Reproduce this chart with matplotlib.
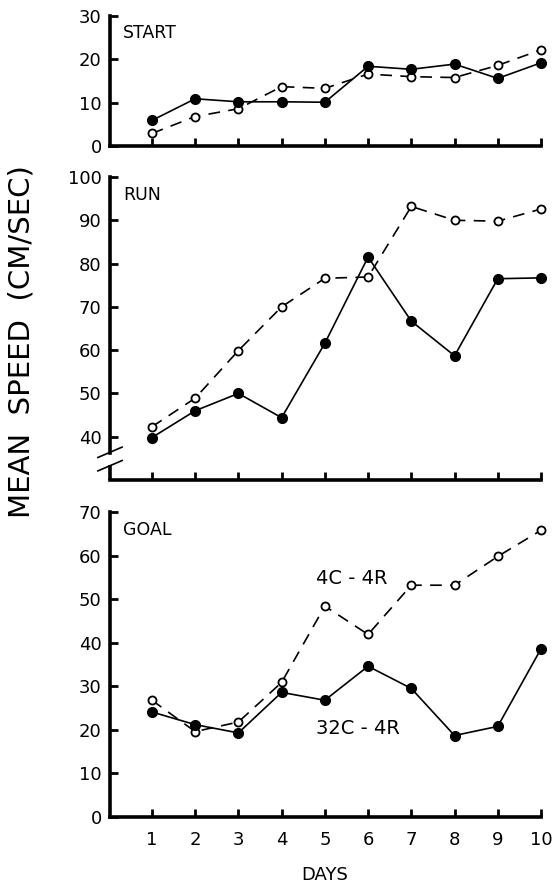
import numpy as np
import matplotlib.pyplot as plt

plt.rcParams['font.family'] = ['DejaVu Sans']

days = [1, 2, 3, 4, 5, 6, 7, 8, 9, 10]

# START segment
start_32c = [5.9, 10.9, 10.2, 10.2, 10.1, 18.4, 17.7, 18.9, 15.6, 19.2]
start_4c = [2.9, 6.8, 8.6, 13.7, 13.3, 16.6, 16.0, 15.8, 18.6, 22.2]

# RUN segment
run_32c = [39.8, 46.0, 50.0, 44.4, 61.6, 81.5, 66.7, 58.7, 76.5, 76.7]
run_4c = [42.3, 48.9, 59.9, 70.0, 76.6, 76.9, 93.2, 90.0, 89.8, 92.6]

# GOAL segment
goal_32c = [24.1, 21.2, 19.3, 28.6, 26.8, 34.6, 29.5, 18.7, 20.8, 38.6]
goal_4c = [26.8, 19.6, 21.8, 30.9, 48.4, 41.9, 53.2, 53.2, 59.8, 65.8]

W, H = 555, 884
fig = plt.figure(figsize=(W / 100, H / 100), dpi=100)

def box(top_px, bot_px):
    return [110 / W, (H - bot_px) / H, 431 / W, (bot_px - top_px) / H]

panels = [
    (box(16, 146), (0, 30), [0, 10, 20, 30], "START", 0.87, start_32c, start_4c),
    (box(177, 480), (30, 100), [40, 50, 60, 70, 80, 90, 100], "RUN", 0.94, run_32c, run_4c),
    (box(512, 817), (0, 70), [0, 10, 20, 30, 40, 50, 60, 70], "GOAL", 0.94, goal_32c, goal_4c),
]

axes = []
for rect, ylim, yt, name, ty, s32, s4 in panels:
    ax = fig.add_axes(rect)
    ax.set_xlim(0.03, 10)
    ax.set_ylim(*ylim)
    for s in ["top", "right"]:
        ax.spines[s].set_visible(False)
    for s in ["left", "bottom"]:
        ax.spines[s].set_linewidth(2.6)
    ax.set_yticks(yt)
    ax.set_xticks(days)
    ax.tick_params(direction="in", length=6, width=2, labelsize=13, pad=6)
    ax.tick_params(axis="x", pad=10)
    ax.plot(days, s4, color="black", lw=1.2, ls=(0, (7, 5)), marker="o", ms=5.8,
            mfc="white", mec="black", mew=1.3, clip_on=False, zorder=3)
    ax.plot(days, s32, color="black", lw=1.2, ls="-", marker="o", ms=7,
            mfc="black", mec="black", clip_on=False, zorder=4)
    ax.text(0.03, ty, name, transform=ax.transAxes, fontsize=12.5,
            va="center", ha="left")
    axes.append(ax)

ax_s, ax_r, ax_g = axes
ax_s.set_xticklabels([])
ax_r.set_xticklabels([])

# axis break on RUN panel
ax_r.spines["left"].set_bounds(36.2, 100)
ax_r.plot([0.03, 0.03], [30, 33.5], color="black", lw=2.6, clip_on=False, solid_capstyle="butt")
for yb in [33.3, 36.4]:
    ax_r.plot([-0.25, 0.31], [yb - 1.2, yb + 1.2], color="black", lw=1.2, clip_on=False)

ax_g.text(5.63, 54.8, "4C - 4R", fontsize=14, ha="center", va="center")
ax_g.text(5.77, 20.2, "32C - 4R", fontsize=14, ha="center", va="center")

fig.text(325 / W, 9 / H, "DAYS", fontsize=13, ha="center", va="center")
fig.text(22 / W, (H - 342) / H, "MEAN  SPEED  (CM/SEC)", fontsize=21, rotation=90,
         ha="center", va="center")

fig.savefig("out.png", dpi=100)
